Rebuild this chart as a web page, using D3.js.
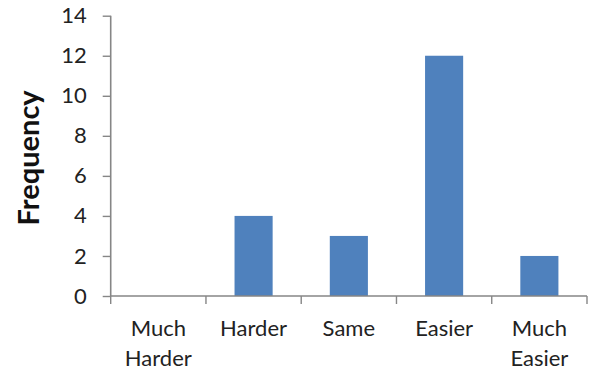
<!DOCTYPE html>
<html>
<head>
<meta charset="utf-8">
<script src="https://cdn.jsdelivr.net/npm/d3@7"></script>
<style>
  html, body { margin: 0; padding: 0; background: #fff; }
  svg { display: block; }
</style>
</head>
<body>
<svg id="chart" width="592" height="374"></svg>
<script>
// Responses: how the task felt compared with before
const categories = ["Much Harder", "Harder", "Same", "Easier", "Much Easier"];
const frequency = [0, 4, 3, 12, 2];
const yTicks = [0, 2, 4, 6, 8, 10, 12, 14];

const svg = d3.select("#chart");
const font = "Lato, 'Open Sans', sans-serif";
const axisColor = "#868686";
const barColor = "#4F81BD";

const margin = { left: 110.7, right: 5, top: 15.7, bottom: 78 };
const width = 592 - margin.left - margin.right;
const height = 374 - margin.top - margin.bottom;

const x = d3.scaleBand().domain(categories).range([0, width]).padding(0);
const y = d3.scaleLinear().domain([0, 14]).range([height, 0]);

const g = svg.append("g").attr("transform", `translate(${margin.left},${margin.top})`);

// Bars, 40% of each category slot, centred
const barW = x.bandwidth() * 0.4;
g.selectAll("rect.bar")
  .data(categories.map((c, i) => ({ c, v: frequency[i] })))
  .join("rect")
  .attr("class", "bar")
  .attr("x", d => x(d.c) + (x.bandwidth() - barW) / 2)
  .attr("width", barW)
  .attr("y", d => y(d.v))
  .attr("height", d => y(0) - y(d.v))
  .attr("fill", barColor);

// Y axis
const yAxis = g.append("g")
  .call(d3.axisLeft(y).tickValues(yTicks).tickSize(8).tickPadding(16).tickSizeOuter(8));
yAxis.select(".domain").attr("stroke", axisColor).attr("stroke-width", 1.6)
  .attr("d", `M0,${y(14)}V${y(0)}`);
yAxis.selectAll(".tick line").attr("stroke", axisColor).attr("stroke-width", 1.4);
yAxis.selectAll(".tick text")
  .attr("fill", "#222").style("font-family", font).style("font-size", "22px");

// X axis: ticks at category boundaries
const xAxisG = g.append("g").attr("transform", `translate(0,${height})`);
xAxisG.append("line")
  .attr("x1", 0).attr("x2", width).attr("y1", 0).attr("y2", 0)
  .attr("stroke", axisColor).attr("stroke-width", 1.6);
const boundaries = categories.map(c => x(c)).concat([width]);
xAxisG.selectAll("line.tick")
  .data(boundaries)
  .join("line")
  .attr("class", "tick")
  .attr("x1", d => d).attr("x2", d => d)
  .attr("y1", 0).attr("y2", 8)
  .attr("stroke", axisColor).attr("stroke-width", 1.4);

// Category labels, wrapped onto two lines where needed
const labelLines = {
  "Much Harder": ["Much", "Harder"],
  "Much Easier": ["Much", "Easier"]
};
categories.forEach(c => {
  const lines = labelLines[c] || [c];
  const t = xAxisG.append("text")
    .attr("x", x(c) + x.bandwidth() / 2)
    .attr("y", 40)
    .attr("text-anchor", "middle")
    .attr("fill", "#222")
    .style("font-family", font)
    .style("font-size", "22px");
  lines.forEach((l, i) => {
    t.append("tspan").attr("x", x(c) + x.bandwidth() / 2).attr("dy", i === 0 ? 0 : 30).text(l);
  });
});

// Y axis title
svg.append("text")
  .attr("transform", `translate(39,${margin.top + height / 2 + 2}) rotate(-90)`)
  .attr("text-anchor", "middle")
  .attr("fill", "#111")
  .style("font-family", font)
  .style("font-weight", "bold")
  .style("font-size", "29px")
  .text("Frequency");
</script>
</body>
</html>
